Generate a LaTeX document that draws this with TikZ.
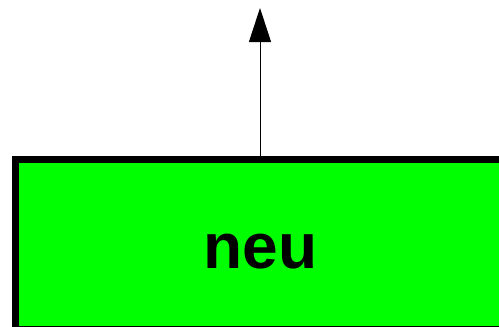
\documentclass[tikz,border=0pt]{standalone}
\usepackage{fontspec}
\setmainfont{Liberation Sans}
\usetikzlibrary{arrows.meta,positioning}

\definecolor{boxgreen}{RGB}{0,255,0}

\begin{document}
\begin{tikzpicture}[x=1pt,y=-1pt,
  statebox/.style={draw=black, line width=7pt, fill=boxgreen, minimum width=490pt,
    minimum height=169.5pt, inner sep=0pt},
  statetext/.style={inner sep=0pt, font=\fontsize{64}{64}\selectfont\bfseries}]
\useasboundingbox (0,0) rectangle (499,327);
\clip (0,0) rectangle (499,327);
% box that runs off the page
\node[statebox] (neubox) at (260,244.25) {};
\node[statetext, anchor=base] (neu) at (260.5,268.5) {neu};
% outgoing transition
\coordinate (top) at (260,8);
\draw[line width=1pt, -{Triangle[length=34pt,width=22pt]}] (neubox.north) -- (top);
\end{tikzpicture}
\end{document}
